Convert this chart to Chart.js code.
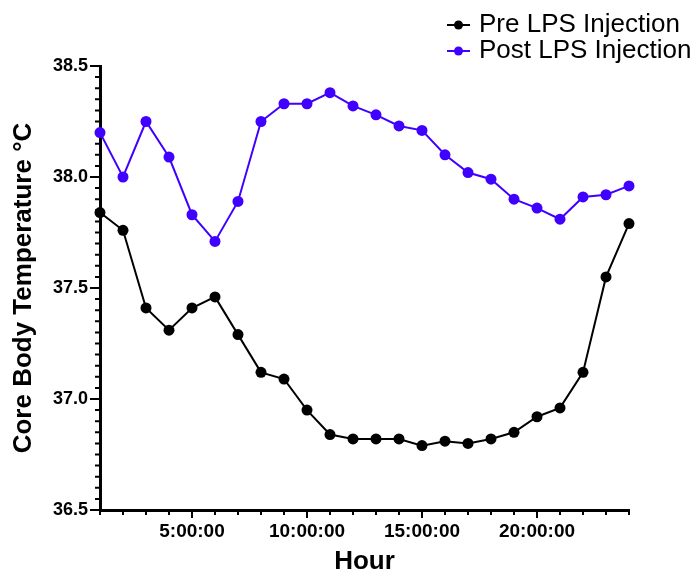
<!DOCTYPE html>
<html>
<head>
<meta charset="utf-8">
<title>Core Body Temperature</title>
<script src="https://cdn.jsdelivr.net/npm/chart.js@4.4.1/dist/chart.umd.min.js"></script>
<style>
    html, body { margin: 0; padding: 0; background: #fff; }
    #wrap { width: 696px; height: 571px; }
</style>
</head>
<body>
<div id="wrap"><canvas id="graficoTemp" width="696" height="571"></canvas></div>
<script>
// hora do registro
const horas = [1, 2, 3, 4, 5, 6, 7, 8, 9, 10, 11, 12, 13, 14, 15, 16, 17, 18, 19, 20, 21, 22, 23, 24];

// temperatura corporal (°C)
const preLPS = [37.84, 37.76, 37.41, 37.31, 37.41, 37.46, 37.29, 37.12, 37.09, 36.95, 36.84, 36.82,
                36.82, 36.82, 36.79, 36.81, 36.80, 36.82, 36.85, 36.92, 36.96, 37.12, 37.55, 37.79];
const postLPS = [38.20, 38.00, 38.25, 38.09, 37.83, 37.71, 37.89, 38.25, 38.33, 38.33, 38.38, 38.32,
                 38.28, 38.23, 38.21, 38.10, 38.02, 37.99, 37.90, 37.86, 37.81, 37.91, 37.92, 37.96];

const nomesSeries = ['Pre LPS Injection', 'Post LPS Injection'];
const ticksHora = [5, 10, 15, 20];
const ticksTemp = [36.5, 37.0, 37.5, 38.0, 38.5];

const FONTE = '"Liberation Sans", Arial, Helvetica, sans-serif';

// marcas pequenas nos eixos (cada hora / cada 0.05 °C)
const marcasEixo = {
    id: 'marcasEixo',
    beforeDatasetsDraw: function(chart) {
        const ctx = chart.ctx;
        const sx = chart.scales.x, sy = chart.scales.y;
        const area = chart.chartArea;
        ctx.save();
        ctx.strokeStyle = '#000';
        ctx.lineWidth = 2;
        ctx.beginPath();
        for (let h = sx.min; h <= sx.max; h++) {
            const px = sx.getPixelForValue(h);
            const len = (h % 5 === 0) ? 8 : 5;
            ctx.moveTo(px, area.bottom);
            ctx.lineTo(px, area.bottom + len);
        }
        const passos = Math.round((sy.max - sy.min) / 0.05);
        for (let i = 0; i <= passos; i++) {
            const py = sy.getPixelForValue(sy.min + i * 0.05);
            const len = (i % 10 === 0) ? 10 : 5;
            ctx.moveTo(area.left, py);
            ctx.lineTo(area.left - len, py);
        }
        ctx.stroke();
        ctx.restore();
    }
};

// legenda no canto superior direito (empilhada)
const legendaTopo = {
    id: 'legendaTopo',
    afterDraw: function(chart) {
        const ctx = chart.ctx;
        ctx.save();
        ctx.font = '26px ' + FONTE;
        ctx.textBaseline = 'middle';
        chart.data.datasets.forEach(function(ds, i) {
            const yy = 25 + i * 26;
            ctx.strokeStyle = ds.borderColor;
            ctx.lineWidth = 2;
            ctx.beginPath();
            ctx.moveTo(447, yy);
            ctx.lineTo(470, yy);
            ctx.stroke();
            ctx.fillStyle = ds.borderColor;
            ctx.beginPath();
            ctx.arc(458.5, yy, 4.5, 0, Math.PI * 2);
            ctx.fill();
            ctx.fillStyle = '#000';
            ctx.fillText(ds.label, 479, yy);
        });
        ctx.restore();
    }
};

function serie(valores) {
    return horas.map((h, i) => ({ x: h, y: valores[i] }));
}

function estilo(cor) {
    return {
        borderColor: cor,
        backgroundColor: cor,
        borderWidth: 2,
        pointRadius: 5.5,
        pointBorderWidth: 0,
        pointBackgroundColor: cor,
        tension: 0,
        clip: false
    };
}

const ctx = document.getElementById('graficoTemp').getContext('2d');
const grafico = new Chart(ctx, {
    type: 'line',
    data: {
        datasets: [
            Object.assign({ label: nomesSeries[0], data: serie(preLPS) }, estilo('#000000')),
            Object.assign({ label: nomesSeries[1], data: serie(postLPS) }, estilo('#4000ff'))
        ]
    },
    options: {
        responsive: false,
        animation: false,
        events: [],
        layout: { padding: { top: 66, right: 67, left: 0, bottom: 0 } },
        plugins: {
            legend: { display: false },
            tooltip: { enabled: false }
        },
        scales: {
            x: {
                type: 'linear',
                min: 1,
                max: 24,
                afterBuildTicks: function(scale) {
                    scale.ticks = ticksHora.map(v => ({ value: v }));
                },
                afterFit: function(scale) { scale.height = 61; },
                grid: { display: false },
                border: { display: true, color: '#000', width: 3 },
                ticks: {
                    color: '#000',
                    padding: 2,
                    maxRotation: 0,
                    font: { family: FONTE, size: 19, weight: 'bold' },
                    callback: v => v + ':00:00'
                },
                title: {
                    display: true,
                    text: 'Hour',
                    color: '#000',
                    font: { family: FONTE, size: 26, weight: 'bold' },
                    padding: { top: 0, bottom: -6 }
                }
            },
            y: {
                min: 36.5,
                max: 38.5,
                afterBuildTicks: function(scale) {
                    scale.ticks = ticksTemp.map(v => ({ value: v }));
                },
                afterFit: function(scale) { scale.width = 100; },
                grid: { display: false },
                border: { display: true, color: '#000', width: 3 },
                ticks: {
                    color: '#000',
                    padding: 4,
                    font: { family: FONTE, size: 18, weight: 'bold' },
                    callback: v => v.toFixed(1)
                },
                title: {
                    display: true,
                    text: 'Core Body Temperature °C',
                    color: '#000',
                    font: { family: FONTE, size: 26, weight: 'bold' },
                    padding: { top: 8, bottom: 0 }
                }
            }
        }
    },
    plugins: [marcasEixo, legendaTopo]
});
</script>
</body>
</html>
